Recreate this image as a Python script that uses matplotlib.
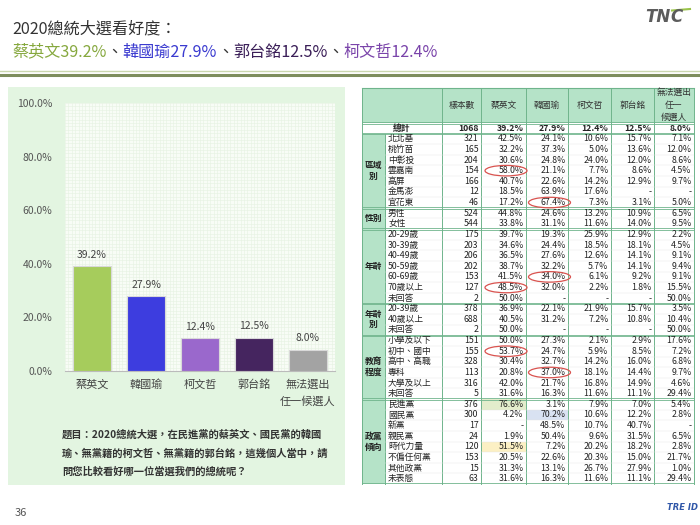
import matplotlib
matplotlib.use("Agg")
import matplotlib.pyplot as plt
from matplotlib.patches import Rectangle, Ellipse
from matplotlib.ticker import MultipleLocator

plt.rcParams['font.family'] = ['Noto Sans CJK TC', 'DejaVu Sans']

# bar chart data
candidates = ["蔡英文", "韓國瑜", "柯文哲", "郭台銘", "無法選出\n任一候選人"]
support = [39.2, 27.9, 12.4, 12.5, 8.0]
bar_colors = ["#a6cc5c", "#3d3ddf", "#9a68cc", "#45255f", "#a3a3a3"]

# headline pieces (text, colour)
headline = [("蔡英文39.2%", "#86a83e"), ("、", "#333333"),
            ("韓國瑜27.9%", "#3b3bd0"), ("、", "#333333"),
            ("郭台銘12.5%", "#3b1f58"), ("、", "#333333"),
            ("柯文哲12.4%", "#7a44aa")]

question = ["題目：2020總統大選，在民進黨的蔡英文、國民黨的韓國",
            "瑜、無黨籍的柯文哲、無黨籍的郭台銘，這幾個人當中，請",
            "問您比較看好哪一位當選我們的總統呢？"]

# table data
table_header = ["樣本數", "蔡英文", "韓國瑜", "柯文哲", "郭台銘", "無法選出\n任一\n候選人"]
total_row = ["1068", "39.2%", "27.9%", "12.4%", "12.5%", "8.0%"]
groups = ["區域\n別", "性別", "年齡", "年齡\n別", "教育\n程度", "政黨\n傾向"]
group_sizes = [7, 2, 7, 3, 6, 8]
row_labels = ["北北基", "桃竹苗", "中彰投", "雲嘉南", "高屏", "金馬澎", "宜花東",
              "男性", "女性",
              "20-29歲", "30-39歲", "40-49歲", "50-59歲", "60-69歲", "70歲以上", "未回答",
              "20-39歲", "40歲以上", "未回答",
              "小學及以下", "初中、國中", "高中、高職", "專科", "大學及以上", "未回答",
              "民進黨", "國民黨", "新黨", "親民黨", "時代力量", "不偏任何黨", "其他政黨", "未表態"]
sample_n = ["321", "165", "204", "154", "166", "12", "46",
            "524", "544",
            "175", "203", "206", "202", "153", "127", "2",
            "378", "688", "2",
            "151", "155", "328", "113", "316", "5",
            "376", "300", "17", "24", "120", "153", "15", "63"]
tsai_pct = ["42.5%", "32.2%", "30.6%", "58.0%", "40.7%", "18.5%", "17.2%",
            "44.8%", "33.8%",
            "39.7%", "34.6%", "36.5%", "38.7%", "41.5%", "48.5%", "50.0%",
            "36.9%", "40.5%", "50.0%",
            "50.0%", "53.7%", "30.4%", "20.8%", "42.0%", "31.6%",
            "76.6%", "4.2%", "-", "1.9%", "51.5%", "20.5%", "31.3%", "31.6%"]
han_pct = ["24.1%", "37.3%", "24.8%", "21.1%", "22.6%", "63.9%", "67.4%",
           "24.6%", "31.1%",
           "19.3%", "24.4%", "27.6%", "32.2%", "34.0%", "32.0%", "-",
           "22.1%", "31.2%", "-",
           "27.3%", "24.7%", "32.7%", "37.0%", "21.7%", "16.3%",
           "3.1%", "70.2%", "48.5%", "50.4%", "7.2%", "22.6%", "13.1%", "16.3%"]
ko_pct = ["10.6%", "5.0%", "24.0%", "7.7%", "14.2%", "17.6%", "7.3%",
          "13.2%", "11.6%",
          "25.9%", "18.5%", "12.6%", "5.7%", "6.1%", "2.2%", "-",
          "21.9%", "7.2%", "-",
          "2.1%", "5.9%", "14.2%", "18.1%", "16.8%", "11.6%",
          "7.9%", "10.6%", "10.7%", "9.6%", "20.2%", "20.3%", "26.7%", "11.6%"]
gou_pct = ["15.7%", "13.6%", "12.0%", "8.6%", "12.9%", "-", "3.1%",
           "10.9%", "14.0%",
           "12.9%", "18.1%", "14.1%", "14.1%", "9.2%", "1.8%", "-",
           "15.7%", "10.8%", "-",
           "2.9%", "8.5%", "16.0%", "14.4%", "14.9%", "11.1%",
           "7.0%", "12.2%", "40.7%", "31.5%", "18.2%", "15.0%", "27.9%", "11.1%"]
none_pct = ["7.1%", "12.0%", "8.6%", "4.5%", "9.7%", "-", "5.0%",
            "6.5%", "9.5%",
            "2.2%", "4.5%", "9.1%", "9.4%", "9.1%", "15.5%", "50.0%",
            "3.5%", "10.4%", "50.0%",
            "17.6%", "7.2%", "6.8%", "9.7%", "4.6%", "29.4%",
            "5.4%", "2.8%", "-", "6.5%", "2.8%", "21.7%", "1.0%", "29.4%"]

fig = plt.figure(figsize=(7, 5.25), dpi=100)
bg = fig.add_axes([0, 0, 1, 1])
bg.set_xlim(0, 700)
bg.set_ylim(525, 0)
bg.axis("off")

# headline
bg.text(12, 29, "2020總統大選看好度：", fontsize=11.6, color="#333333", va="center")
renderer = fig.canvas.get_renderer()
x = 12
for txt, col in headline:
    t = bg.text(x, 52, txt, fontsize=11.6, color=col, va="center")
    x = t.get_window_extent(renderer).x1
bg.plot([0, 700], [71, 71], color="#c9d6ad", lw=1)
bg.plot([0, 700], [75, 75], color="#7d8d5c", lw=2.2)

# logos / page number
bg.text(645, 17, "TN", fontsize=12, color="#5c5c5c", fontweight="bold", style="italic",
        va="center", family="DejaVu Sans")
bg.text(670, 17, "C", fontsize=12, color="#5c5c5c", fontweight="bold", style="italic",
        va="center", family="DejaVu Sans")
bg.plot([672, 690], [10.5, 9], color="#9bc44a", lw=1.5)
bg.text(15, 513, "36", fontsize=8, color="#555555", va="center")
bg.text(667, 507, "TRE ID", fontsize=6, color="#2f56a8", fontweight="bold",
        style="italic", va="center", family="DejaVu Sans")

# left panel
bg.add_patch(Rectangle((8, 87), 337, 398, fc="#e3f5e1", ec="none", zorder=0))
for i, line in enumerate(question):
    bg.text(62, 435 + i * 18.5, line, fontsize=7.4, color="#333333",
            fontweight="bold", va="center")

# bar chart
ax = fig.add_axes([65 / 700, (525 - 371) / 525, 270 / 700, 268 / 525])
ax.set_facecolor("#f8fcf6")
xs = range(len(candidates))
ax.bar(xs, support, width=0.72, color=bar_colors, edgecolor="#d9d9d9", linewidth=0.8, zorder=3)
for i, v in enumerate(support):
    ax.annotate(f"{v:.1f}%", (i, v), xytext=(0, 4.5), textcoords="offset points",
                ha="center", va="bottom", fontsize=7.5, color="#444444")
ax.set_xlim(-0.5, 4.5)
ax.set_ylim(0, 100)
ax.set_yticks(range(0, 101, 20))
ax.set_yticklabels([f"{v:.1f}%" for v in range(0, 101, 20)], fontsize=7.5, color="#555555")
ax.set_xticks(list(xs))
ax.set_xticklabels(candidates, fontsize=8, color="#444444", linespacing=1.75, va="top")
ax.yaxis.set_minor_locator(MultipleLocator(1.25))
ax.xaxis.set_minor_locator(MultipleLocator(0.0625))
ax.grid(which="both", color="#e6f2e2", linewidth=0.4)
ax.tick_params(which="both", length=0)
ax.tick_params(axis="y", pad=9)
ax.tick_params(axis="x", pad=6)
for s in ["top", "right", "left"]:
    ax.spines[s].set_visible(False)
ax.spines["bottom"].set_color("#bbbbbb")
ax.set_axisbelow(True)

# table
col_edges = [362, 385, 442, 481, 526, 568, 611, 654, 694]
head_top, head_bot, total_bot, table_bot = 88, 123, 133.5, 484
row_h = (table_bot - total_bot) / len(row_labels)
line_col = "#6fb48c"
mint = "#b5e3c8"
tfs = 6.3

bg.add_patch(Rectangle((col_edges[0], head_top), col_edges[-1] - col_edges[0],
                       head_bot - head_top, fc=mint, ec="none"))
bg.add_patch(Rectangle((col_edges[0], total_bot), col_edges[1] - col_edges[0],
                       table_bot - total_bot, fc=mint, ec="none"))

fills = [(25, 1, "#e3edcc"), (26, 2, "#d9e2f2"), (29, 1, "#fcf0c4")]
for r, c, fc in fills:
    bg.add_patch(Rectangle((col_edges[c + 2], total_bot + r * row_h),
                           col_edges[c + 3] - col_edges[c + 2], row_h, fc=fc, ec="none"))

# header
for j, h in enumerate(table_header):
    cx = (col_edges[j + 2] + col_edges[j + 3]) / 2
    bg.text(cx, 105.5, h, fontsize=tfs, color="#333333", ha="center", va="center",
            linespacing=1.45)

# total row
ty = (head_bot + total_bot) / 2
bg.text((col_edges[0] + col_edges[2]) / 2, ty, "總計", fontsize=tfs, fontweight="bold",
        ha="center", va="center", color="#222222")
for j, v in enumerate(total_row):
    bg.text(col_edges[j + 3] - 2.5, ty, v, fontsize=tfs, fontweight="bold",
            ha="right", va="center", color="#222222")

# body rows
cols = [sample_n, tsai_pct, han_pct, ko_pct, gou_pct, none_pct]
for i, lab in enumerate(row_labels):
    cy = total_bot + (i + 0.5) * row_h
    bg.text(388, cy, lab, fontsize=tfs, color="#222222", ha="left", va="center")
    for j, colvals in enumerate(cols):
        bg.text(col_edges[j + 3] - 2.5, cy, colvals[i], fontsize=tfs, color="#222222",
                ha="right", va="center")

# group labels and separators
start = 0
bounds = [head_bot, total_bot]
for g, n in zip(groups, group_sizes):
    y0 = total_bot + start * row_h
    y1 = total_bot + (start + n) * row_h
    bg.text((col_edges[0] + col_edges[1]) / 2, (y0 + y1) / 2, g, fontsize=tfs,
            fontweight="bold", color="#222222", ha="center", va="center", linespacing=1.3)
    bounds.append(y1)
    start += n

# grid lines
bg.plot([col_edges[0], col_edges[-1]], [head_top, head_top], color=line_col, lw=0.8)
for b in bounds:
    for off in (-0.8, 0.8):
        if b == table_bot and off > 0:
            continue
        bg.plot([col_edges[0], col_edges[-1]], [b + off, b + off], color=line_col, lw=0.6)
for k, xe in enumerate(col_edges):
    top = total_bot if k == 1 else head_top
    bg.plot([xe, xe], [top, table_bot], color=line_col, lw=0.7)
# light row rules inside groups
for i in range(1, len(row_labels)):
    yy = total_bot + i * row_h
    if any(abs(yy - b) < 0.1 for b in bounds):
        continue
    bg.plot([col_edges[1], col_edges[-1]], [yy, yy], color="#e3e3e3", lw=0.3)

# circled cells
circled = [(3, 1), (6, 2), (13, 2), (14, 1), (20, 1), (22, 2)]
for r, c in circled:
    cx = (col_edges[c + 2] + col_edges[c + 3]) / 2 + 2.5
    cy = total_bot + (r + 0.5) * row_h
    bg.add_patch(Ellipse((cx, cy), 42, 10.5, fc="none", ec="#d9534f", lw=0.9, zorder=5))

fig.savefig("out.png", dpi=100)
